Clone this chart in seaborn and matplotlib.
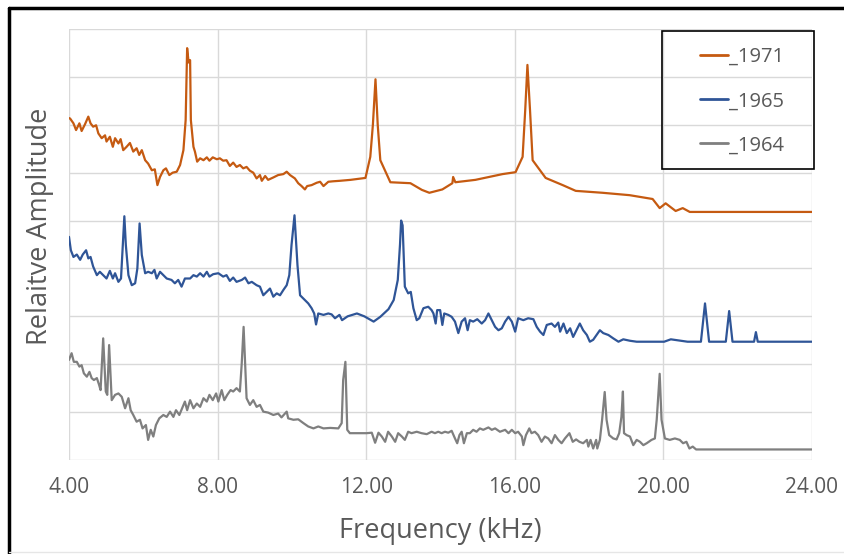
import numpy as np
import pandas as pd
import seaborn as sns
import matplotlib.pyplot as plt
from matplotlib.lines import Line2D
from matplotlib.patches import Rectangle

# traced spectra (frequency in kHz, relative amplitude in grid units)
freq_1971 = [4.0, 4.03, 4.12, 4.19, 4.28, 4.34, 4.43, 4.52, 4.58, 4.65, 4.73, 4.79, 4.88, 4.97, 5.01,
             5.1, 5.18, 5.24, 5.33, 5.39, 5.46, 5.55, 5.64, 5.73, 5.82, 5.89, 5.96, 6.05, 6.13, 6.23,
             6.31, 6.38, 6.45, 6.54, 6.61, 6.7, 6.79, 6.9, 6.99, 7.08, 7.14, 7.18, 7.22, 7.26, 7.28,
             7.35, 7.39, 7.45, 7.53, 7.62, 7.71, 7.78, 7.87, 7.98, 8.06, 8.15, 8.24, 8.33, 8.42,
             8.51, 8.6, 8.69, 8.78, 8.87, 8.96, 9.05, 9.14, 9.19, 9.28, 9.36, 9.5, 9.63, 9.77,
             9.86, 9.95, 10.08, 10.17, 10.26, 10.35, 10.41, 10.53, 10.67, 10.76, 10.85, 10.98,
             11.11, 11.29, 11.58, 11.98, 12.11, 12.18, 12.25, 12.31, 12.38, 12.65, 13.19, 13.5,
             13.7, 14.05, 14.32, 14.34, 14.4, 14.94, 15.67, 16.02, 16.21, 16.28, 16.34, 16.41,
             16.48, 16.83, 17.29, 17.64, 18.36, 19.09, 19.71, 19.9, 20.06, 20.33, 20.52, 20.71, 24.0]
amp_1971 = [7.14, 7.13, 7.03, 6.89, 7.03, 6.87, 7.01, 7.17, 7.03, 6.96, 6.99, 6.82, 6.72, 6.78, 6.65,
            6.75, 6.54, 6.72, 6.61, 6.7, 6.47, 6.54, 6.62, 6.44, 6.51, 6.37, 6.47, 6.26, 6.19, 6.05,
            6.07, 5.74, 5.91, 6.05, 6.09, 5.95, 6.0, 6.02, 6.16, 6.47, 7.1, 8.6, 8.3, 8.35, 7.1,
            6.54, 6.44, 6.23, 6.3, 6.26, 6.32, 6.25, 6.32, 6.28, 6.3, 6.25, 6.26, 6.14, 6.21,
            6.12, 6.16, 6.09, 6.12, 6.04, 6.0, 5.88, 5.95, 5.83, 5.93, 5.85, 5.9, 5.95, 5.97,
            6.02, 5.95, 5.88, 5.78, 5.72, 5.65, 5.72, 5.74, 5.79, 5.81, 5.72, 5.81,
            5.82, 5.83, 5.85, 5.89, 6.33, 7.0, 7.95, 7.0, 6.26, 5.8, 5.78, 5.64,
            5.58, 5.65, 5.78, 5.91, 5.8, 5.85, 5.97, 6.01, 6.33, 7.3, 8.25, 7.3,
            6.26, 5.89, 5.74, 5.62, 5.58, 5.53, 5.45, 5.26, 5.36, 5.2, 5.26, 5.18, 5.18]

freq_1965 = [4.0, 4.05, 4.12, 4.21, 4.3, 4.37, 4.46, 4.52, 4.58, 4.65, 4.75, 4.83, 4.92, 5.01, 5.1,
             5.18, 5.24, 5.33, 5.4, 5.45, 5.49, 5.53, 5.6, 5.69, 5.78, 5.84, 5.9, 5.96, 6.05, 6.13,
             6.23, 6.3, 6.36, 6.45, 6.54, 6.63, 6.76, 6.85, 6.94, 7.03, 7.12, 7.26, 7.35, 7.44,
             7.53, 7.62, 7.71, 7.78, 7.88, 8.02, 8.15, 8.24, 8.33, 8.42, 8.51, 8.65, 8.74, 8.83,
             8.92, 9.05, 9.14, 9.23, 9.32, 9.41, 9.5, 9.59, 9.68, 9.77, 9.86, 9.93, 9.99, 10.07,
             10.15, 10.22, 10.35, 10.44, 10.53, 10.6, 10.65, 10.71, 10.85, 10.98, 11.07, 11.16,
             11.28, 11.35, 11.5, 11.75, 11.95, 12.2, 12.38, 12.6, 12.74, 12.85, 12.91, 12.94,
             12.98, 13.04, 13.13, 13.2, 13.27, 13.36, 13.43, 13.54, 13.67, 13.76, 13.81, 13.87,
             13.91, 13.99, 14.05, 14.1, 14.21, 14.3, 14.39, 14.48, 14.57, 14.66, 14.73, 14.79,
             14.88, 14.99, 15.11, 15.2, 15.29, 15.38, 15.47, 15.56, 15.65, 15.74, 15.83, 15.92,
             16.01, 16.09, 16.23, 16.36, 16.5, 16.59, 16.68, 16.77, 16.86, 16.99, 17.08, 17.17,
             17.22, 17.31, 17.4, 17.49, 17.57, 17.66, 17.75, 17.84, 17.94, 18.02, 18.11, 18.2,
             18.29, 18.38, 18.52, 18.65, 18.79, 18.92, 19.1, 19.28, 20.02, 20.2, 20.65, 21.01,
             21.12, 21.23, 21.68, 21.77, 21.86, 22.44, 22.49, 22.54, 24.0]
amp_1965 = [4.66, 4.38, 4.24, 4.29, 4.18, 4.29, 4.38, 4.21, 4.24, 4.04, 3.86, 3.93, 3.86, 3.79, 3.95,
            3.79, 3.9, 3.72, 3.79, 4.49, 5.09, 4.49, 3.86, 3.65, 3.69, 4.0, 4.94, 4.28, 3.9, 3.93,
            3.9, 3.97, 3.79, 3.93, 3.86, 3.79, 3.76, 3.69, 3.76, 3.62, 3.79, 3.79, 3.86, 3.83,
            3.9, 3.83, 3.93, 3.83, 3.88, 3.9, 3.83, 3.86, 3.74, 3.81, 3.72, 3.76, 3.81, 3.69,
            3.72, 3.65, 3.62, 3.44, 3.51, 3.58, 3.41, 3.48, 3.44, 3.55, 3.65, 3.86, 4.49, 5.11,
            4.07, 3.44, 3.34, 3.27, 3.17, 3.06, 2.83, 3.06, 3.03, 3.06, 3.04, 2.96,
            3.03, 2.92, 3.0, 3.06, 3.0, 2.89, 2.99, 3.15, 3.34, 3.76, 4.5, 5.0,
            4.9, 3.62, 3.48, 3.51, 3.17, 2.92, 2.96, 3.17, 3.2, 3.13, 3.06, 2.85,
            3.13, 3.13, 2.82, 3.06, 3.03, 2.99, 2.89, 2.65, 2.89, 2.96, 2.71, 2.92,
            2.89, 2.94, 2.85, 2.92, 3.06, 2.92, 2.78, 2.71, 2.75, 2.89, 2.99, 2.89,
            2.68, 2.96, 2.92, 2.96, 2.94, 2.78, 2.68, 2.61, 2.82, 2.85, 2.78, 2.87,
            2.68, 2.85, 2.65, 2.75, 2.57, 2.71, 2.85, 2.71, 2.61, 2.47, 2.51, 2.61,
            2.71, 2.65, 2.61, 2.54, 2.47, 2.52, 2.49, 2.47, 2.47, 2.52, 2.47, 2.47,
            3.27, 2.47, 2.47, 3.11, 2.47, 2.47, 2.67, 2.47, 2.47]

freq_1964 = [4.0, 4.07, 4.13, 4.21, 4.28, 4.34, 4.4, 4.48, 4.55, 4.61, 4.67, 4.75, 4.81, 4.85, 4.92,
             4.99, 5.03, 5.08, 5.15, 5.24, 5.33, 5.42, 5.51, 5.6, 5.66, 5.73, 5.82, 5.91, 5.98,
             6.07, 6.13, 6.2, 6.27, 6.34, 6.43, 6.54, 6.63, 6.72, 6.81, 6.88, 6.97, 7.06, 7.12,
             7.18, 7.26, 7.35, 7.44, 7.53, 7.62, 7.71, 7.78, 7.87, 7.96, 8.02, 8.11, 8.18, 8.26,
             8.35, 8.42, 8.51, 8.6, 8.65, 8.7, 8.74, 8.78, 8.87, 8.96, 9.05, 9.14, 9.23, 9.36,
             9.5, 9.63, 9.72, 9.86, 9.9, 10.04, 10.17, 10.31, 10.44, 10.58, 10.71, 10.85, 11.03,
             11.25, 11.34, 11.38, 11.44, 11.49, 11.56, 11.65, 11.83, 12.01, 12.15, 12.24, 12.33,
             12.42, 12.51, 12.59, 12.69, 12.78, 12.86, 12.96, 13.04, 13.13, 13.22, 13.36, 13.49,
             13.63, 13.76, 13.85, 13.94, 14.03, 14.12, 14.21, 14.3, 14.39, 14.45, 14.51, 14.57,
             14.63, 14.71, 14.79, 14.88, 14.97, 15.06, 15.15, 15.29, 15.38, 15.47, 15.6, 15.74,
             15.83, 15.92, 16.01, 16.09, 16.19, 16.23, 16.3, 16.39, 16.45, 16.54, 16.63, 16.72,
             16.81, 16.9, 16.99, 17.08, 17.17, 17.26, 17.35, 17.47, 17.56, 17.65, 17.74, 17.84,
             17.94, 17.98, 18.04, 18.11, 18.19, 18.22, 18.29, 18.35, 18.42, 18.47, 18.54, 18.65,
             18.74, 18.81, 18.87, 18.91, 18.94, 19.01, 19.1, 19.19, 19.28, 19.37, 19.46, 19.55,
             19.68, 19.77, 19.82, 19.9, 19.95, 20.04, 20.17, 20.31, 20.44, 20.53, 20.62, 20.7,
             20.79, 20.88, 24.0]
amp_1964 = [2.09, 2.23, 2.05, 2.05, 1.95, 1.98, 1.81, 1.74, 1.84, 1.71, 1.67, 1.71, 1.57, 1.46, 2.54,
            1.43, 1.36, 2.4, 1.25, 1.36, 1.39, 1.32, 1.08, 1.29, 1.04, 0.94, 0.8, 0.84, 0.66,
            0.73, 0.42, 0.63, 0.49, 0.73, 0.87, 0.94, 0.9, 1.01, 0.9, 1.04, 0.94, 1.11, 1.22,
            1.04, 1.25, 1.08, 1.18, 1.11, 1.29, 1.22, 1.36, 1.25, 1.39, 1.22, 1.46, 1.25, 1.36,
            1.46, 1.43, 1.5, 1.43, 2.02, 2.78, 2.02, 1.29, 1.15, 1.25, 1.11, 1.15, 1.01, 0.99,
            0.94, 0.97, 0.89, 1.01, 0.87, 0.84, 0.85, 0.77, 0.7, 0.66, 0.7, 0.66, 0.67,
            0.66, 0.77, 1.67, 2.05, 0.63, 0.56, 0.56, 0.56, 0.56, 0.57, 0.36, 0.57,
            0.49, 0.38, 0.59, 0.49, 0.38, 0.56, 0.49, 0.42, 0.59, 0.56, 0.59, 0.56,
            0.54, 0.59, 0.56, 0.59, 0.56, 0.59, 0.57, 0.61, 0.45, 0.35, 0.52, 0.59,
            0.35, 0.56, 0.56, 0.63, 0.59, 0.66, 0.63, 0.68, 0.63, 0.66, 0.59, 0.63,
            0.56, 0.63, 0.56, 0.59, 0.49, 0.31, 0.52, 0.66, 0.56, 0.59, 0.52, 0.38,
            0.49, 0.45, 0.35, 0.52, 0.42, 0.35, 0.45, 0.56, 0.38, 0.43, 0.38, 0.35,
            0.42, 0.28, 0.42, 0.24, 0.42, 0.24, 0.42, 0.84, 1.42, 0.84, 0.52, 0.45,
            0.43, 0.56, 0.9, 1.43, 0.56, 0.52, 0.49, 0.31, 0.42, 0.38, 0.31, 0.35,
            0.42, 0.45, 0.84, 1.8, 0.84, 0.45, 0.42, 0.45, 0.42, 0.35, 0.38, 0.24,
            0.28, 0.22, 0.22]

series_names = ['_1971', '_1965', '_1964']
series_colors = ['#C55A11', '#2F5597', '#7F7F7F']
x_ticks = [4, 8, 12, 16, 20, 24]

df = pd.concat([
    pd.DataFrame({'freq': freq_1971, 'amp': amp_1971, 'series': '_1971'}),
    pd.DataFrame({'freq': freq_1965, 'amp': amp_1965, 'series': '_1965'}),
    pd.DataFrame({'freq': freq_1964, 'amp': amp_1964, 'series': '_1964'}),
], ignore_index=True)

sns.set_style('white')
plt.rcParams['font.family'] = ['Open Sans', 'DejaVu Sans']
text_col = '#595959'

fig = plt.figure(figsize=(8.44, 5.54), dpi=100)
ax = fig.add_axes([69 / 844, 1 - 460 / 554, (812 - 69) / 844, (460 - 29) / 554])

sns.lineplot(data=df, x='freq', y='amp', hue='series', hue_order=series_names,
             palette=series_colors, estimator=None, sort=False, legend=False,
             linewidth=1.6, ax=ax)

ax.set_xlim(4, 24)
ax.set_ylim(0, 9)
ax.set_xticks(x_ticks)
ax.set_xticklabels([f'{t:.2f}' for t in x_ticks])
ax.set_yticks(range(10))
ax.set_yticklabels([])
ax.grid(True, color='#D9D9D9', linewidth=1)
ax.set_axisbelow(True)
for s in ax.spines.values():
    s.set_visible(False)
ax.tick_params(length=0, labelsize=15, labelcolor=text_col, pad=12)
ax.set_xlabel('Frequency (kHz)', fontsize=19.5, color=text_col)
ax.set_ylabel('Relaitve Amplitude', fontsize=19.5, color=text_col)
ax.xaxis.set_label_coords(0.4993, -0.133)
ax.yaxis.set_label_coords(-0.02, 0.543)

handles = [Line2D([], [], color=c, linewidth=2) for c in series_colors]
fig.legend(handles, series_names, loc='upper left', bbox_to_anchor=(690 / 844, 1 - 37 / 554),
           frameon=False, fontsize=14.5, labelspacing=1.2, handlelength=1.4,
           handletextpad=0.05, labelcolor=text_col, borderpad=0)
fig.add_artist(Rectangle((662 / 844, 1 - 169 / 554), 152 / 844, 138 / 554,
                         transform=fig.transFigure, fill=False, edgecolor='black', linewidth=1.2))

# chart frame (left and top edges drawn dark, bottom faint)
fig.add_artist(Line2D([9 / 844, 9 / 844], [0, 1 - 8 / 554], transform=fig.transFigure,
                      color='black', linewidth=2.5))
fig.add_artist(Line2D([9 / 844, 1], [1 - 8 / 554, 1 - 8 / 554], transform=fig.transFigure,
                      color='black', linewidth=2.5))
fig.add_artist(Line2D([9 / 844, 1], [2 / 554, 2 / 554], transform=fig.transFigure,
                      color='#E6E6E6', linewidth=1))

fig.savefig('out.png', dpi=100)
